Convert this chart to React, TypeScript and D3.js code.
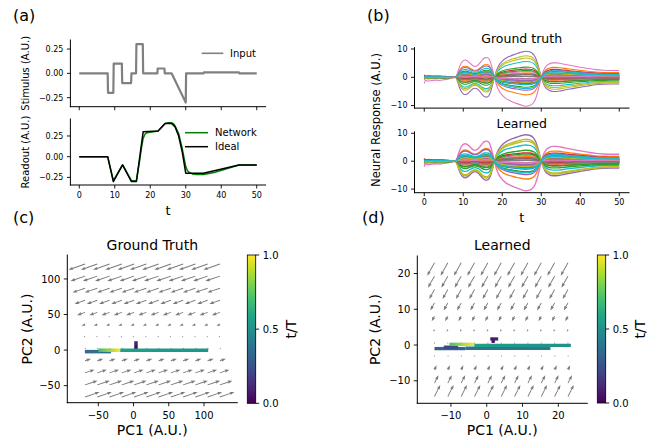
import * as d3 from "d3";

// ---------- (a) stimulus / readout ----------
const inputT = [0, 8, 8.1, 9.6, 9.7, 12, 12.1, 14.6, 14.7, 16, 16.1, 17.9, 18, 22, 22.1, 24, 24.1, 26, 30, 30.1, 35, 35.1, 45, 45.1, 50];
const inputV = [0, 0, -0.2, -0.2, 0.1, 0.1, -0.1, -0.1, 0, 0, 0.3, 0.3, 0, 0, 0.05, 0.05, 0, 0, -0.3, 0, 0, 0.01, 0.01, 0, 0];

const idealT = [0, 8, 9.6, 12.2, 14.7, 16.1, 18, 22.2, 24.2, 26, 27, 28, 29, 30, 35, 45, 50];
const idealV = [0, 0, -0.3, -0.1, -0.3, -0.3, 0.3, 0.31, 0.4, 0.4, 0.36, 0.25, 0.06, -0.2, -0.2, -0.1, -0.1];

const netT = [0, 8, 9.6, 12.2, 14.7, 16.1, 17, 17.5, 18, 18.5, 19, 22.2, 24.2, 25, 26, 26.5, 27, 28, 29, 30, 30.5, 31, 32, 33, 35, 38, 45, 50];
const netV = [0, 0, -0.29, -0.1, -0.29, -0.29, -0.05, 0.1, 0.22, 0.27, 0.29, 0.31, 0.4, 0.41, 0.41, 0.4, 0.37, 0.28, 0.1, -0.12, -0.17, -0.19, -0.21, -0.215, -0.215, -0.19, -0.1, -0.1];

const aTicksX = [0, 10, 20, 30, 40, 50];
const a1TicksY = [-0.25, 0, 0.25];
const a2TicksY = [-0.25, 0, 0.25];

// ---------- (b) neural responses: segment profiles x neuron amplitudes ----------
const prof0T = [0, 0.3, 1, 2, 3, 4, 5, 6, 7, 8];
const prof0P = [1, 0.5, 0.6, 0.5, 0.45, 0.5, 0.4, 0.3, 0.15, 0];
const prof1T = [8, 8.5, 9, 9.5, 10, 10.5, 11, 11.5, 12, 12.5, 13, 13.5, 14, 14.5, 15, 15.5, 16, 16.5, 17, 17.5, 18];
const prof1P = [0, 0.2, 0.5, 0.72, 0.84, 0.87, 0.84, 0.76, 0.66, 0.58, 0.55, 0.58, 0.66, 0.78, 0.9, 0.98, 1.0, 0.95, 0.75, 0.4, 0];
const prof2T = [18, 18.5, 19, 20, 21, 22, 23, 24, 25, 26, 27, 28, 28.5, 29, 29.5, 30];
const prof2P = [0, 0.25, 0.42, 0.62, 0.74, 0.81, 0.87, 0.92, 0.97, 1.0, 0.98, 0.88, 0.76, 0.56, 0.3, 0];
const prof3T = [30, 30.5, 31, 32, 33, 34, 35, 36, 38, 40, 42, 44, 46, 48, 50];
const prof3P = [0, 0.4, 0.68, 0.92, 1.0, 1.0, 0.96, 0.9, 0.8, 0.7, 0.61, 0.53, 0.49, 0.47, 0.47];

const gtAmp0 = [0.3, 0.9, -0.3, 0.5, -0.6, 0.2, -2.2, 0.4, -0.5, 0.6, 0.5, -0.9, 0.4, -0.4, 0.2, -0.2, 0.9, -0.3, 0.3, -0.5, -0.4, 0.6, -0.6, 0.7, -0.3, 0.2, 0.3, 0.2, -0.4, 0.3];
const gtAmp1 = [-1.0, 4.5, 2.5, -2.0, -7.0, 0.8, 7.0, 0.3, -5.2, -4.0, 2.0, 0.2, -2.8, 1.5, 4.0, -0.5, -1.5, -0.2, -4.6, 3.2, 1.2, -1.2, -2.0, -0.8, 1.0, 1.8, 0.5, -0.9, 1.5, 2.0];
const gtAmp2 = [1.2, -6.2, -3.5, 2.9, 9.2, -1.0, -10.2, -0.4, 7.6, 5.6, -2.6, 0.4, 3.6, -2.0, -4.6, 0.9, 2.0, 0.3, 6.8, -4.0, -1.6, 1.5, 2.4, 1.0, -1.2, -2.2, -0.6, 1.1, -1.8, -2.5];
const gtAmp3 = [-0.8, 3.5, 2.0, -1.5, -5.0, 0.5, 5.1, 0.2, -4.2, -3.0, 1.4, -0.3, -2.2, 2.8, 2.5, -0.6, -1.0, -0.1, -3.6, 2.2, 1.0, -1.0, -1.6, -0.6, 0.8, 1.2, 0.4, -0.7, 1.2, 1.6];

const lrAmp0 = [0.4, 1.0, -0.4, 0.6, -0.7, 0.3, -2.0, 0.3, -0.6, 0.7, 0.4, -1.0, 0.5, -0.5, 0.3, -0.3, 0.8, -0.4, 0.4, -0.6, -0.5, 0.5, -0.7, 0.8, -0.2, 0.3, 0.2, 0.3, -0.5, 0.4];
const lrAmp1 = [-1.1, 4.6, 2.4, -2.2, -6.8, 0.9, 7.2, 0.3, -6.0, -4.2, 2.1, 0.1, -3.0, 1.6, 4.2, -0.4, -1.6, -0.3, -5.6, 3.0, 1.3, -1.1, -2.2, -0.7, 1.1, 1.9, 0.6, -1.0, 1.4, 2.2];
const lrAmp2 = [1.3, -6.4, -3.8, 3.0, 9.5, -1.1, -10.6, -0.5, 7.9, 5.8, -2.8, 0.5, 3.9, -2.1, -4.8, 1.0, 2.1, 0.3, 7.2, -4.2, -1.7, 1.6, 2.6, 1.1, -1.3, -2.3, -0.6, 1.2, -1.9, -2.6];
const lrAmp3 = [-0.9, 3.6, 2.1, -1.6, -5.2, 0.6, 5.3, 0.2, -4.6, -3.2, 1.5, -0.3, -2.4, 2.9, 2.6, -0.6, -1.1, -0.1, -4.2, 2.3, 1.1, -1.0, -1.7, -0.6, 0.9, 1.3, 0.4, -0.8, 1.3, 1.7];

const bTicksY = [-10, 0, 10];

// ---------- (c)/(d) flow fields and trajectories ----------
// quiver grid (data units) and per-row vector (screen units: u right, v up)
const qGTx = [-68.8, -51.4, -34, -16.6, 0.8, 18.2, 35.6, 53, 70.4, 87.8, 105.2, 122.6];
const qGTy = [-66, -49, -32, -15, 2, 19, 36, 53, 70, 87, 104, 121];
const qGTu = [14.5, 12.5, 9.5, 6, 1, -1.2, -3.5, -8, -10.5, -12.5, -14.5, -16.5];
const qGTv = [5, 4.2, 3.2, 2, 0.3, -0.4, -1.2, -2.8, -3.6, -4.3, -5.0, -5.8];

const qLRx = [-14.6, -10.87, -7.14, -3.41, 0.32, 4.05, 7.78, 11.51, 15.24, 18.97, 22.7];
const qLRy = [-14.4, -10.66, -6.92, -3.18, 0.56, 4.3, 8.04, 11.78, 15.52, 19.26, 23.0];
const qLRu = [5.8, 4.0, 2.2, 0.5, -0.3, -1.2, -2.8, -4.2, -5.3, -6.5, -7.3];
const qLRv = [11.5, 8, 4.5, 1, -0.5, -2.2, -5, -7.5, -9.5, -11.5, -13];

// trajectory dwell segments: [x0, y0, x1, y1, t/T start, t/T end]
const trajGT = [
  [3.5, 1.5, 3.5, 12.5, 0.0, 0.14],
  [-69, -2.2, -32, -2.2, 0.34, 0.38],
  [106, -0.4, -19, -0.4, 0.52, 0.57],
  [-50, -0.2, -19, -0.2, 0.68, 1.0],
];
const trajLR = [
  [1.8, 0.6, 1.8, 1.9, 0.0, 0.1],
  [1.0, 1.7, 3.2, 1.7, 0.05, 0.12],
  [-14.6, -1.0, -6.0, -1.0, 0.3, 0.32],
  [-12, -0.6, -8, -0.6, 0.2, 0.22],
  [-6, -0.9, 17.8, -0.9, 0.38, 0.42],
  [23.5, -0.1, -3.5, -0.1, 0.5, 0.56],
  [-10.4, 0.2, -3.5, 0.2, 0.7, 1.0],
];

const cTicksX = [-50, 0, 50, 100];
const cTicksY = [-50, 0, 50, 100];
const dTicksX = [-10, 0, 10, 20];
const dTicksY = [-10, 0, 10, 20];
const cbTicks = [0, 0.5, 1];

const FONT = "DejaVu Sans, Verdana, sans-serif";
type Sc = d3.ScaleLinear<number, number>;
const minus = (s: string) => s.replace("-", "\u2212");

function Spines({ x, y }: { x: Sc; y: Sc }) {
  const [x0, x1] = x.range();
  const [y0, y1] = y.range();
  return (
    <g stroke="#000" strokeWidth={1} fill="none" strokeLinecap="square">
      <line x1={x0} y1={y0} x2={x0} y2={y1} />
      <line x1={x0} y1={y0} x2={x1} y2={y0} />
    </g>
  );
}

function YTicks({ x, y, ticks, fmt, fs }: { x: Sc; y: Sc; ticks: number[]; fmt: (v: number) => string; fs: number }) {
  const x0 = x.range()[0];
  return (
    <g>
      {ticks.map((v) => (
        <g key={v}>
          <line x1={x0 - 3.5} x2={x0} y1={y(v)} y2={y(v)} stroke="#000" strokeWidth={0.9} />
          <text x={x0 - 7} y={y(v) + fs * 0.36} fontSize={fs} textAnchor="end" fontFamily={FONT}>
            {minus(fmt(v))}
          </text>
        </g>
      ))}
    </g>
  );
}

function XTicks({ x, y, ticks, fs, labels, off }: { x: Sc; y: Sc; ticks: number[]; fs: number; labels: boolean; off: number }) {
  const y0 = y.range()[0];
  return (
    <g>
      {ticks.map((v) => (
        <g key={v}>
          <line x1={x(v)} x2={x(v)} y1={y0} y2={y0 + 3.5} stroke="#000" strokeWidth={0.9} />
          {labels && (
            <text x={x(v)} y={y0 + off} fontSize={fs} textAnchor="middle" fontFamily={FONT}>
              {minus(String(v))}
            </text>
          )}
        </g>
      ))}
    </g>
  );
}

function arrow(px: number, py: number, u: number, v: number, key: string) {
  const L = Math.hypot(u, v);
  if (L < 0.9) return <circle key={key} cx={px} cy={py} r={0.6} fill="#7a7a7a" />;
  let w = 0.9, hl = 4.6, hal = 4.1, hw = 3.3;
  if (L < hl) {
    const s = L / hl;
    w *= Math.max(s, 0.7); hl = L; hal *= s; hw *= Math.max(s, 0.5);
  }
  const pts = [
    [0, -w / 2], [L - hal, -w / 2], [L - hl, -hw / 2], [L, 0], [L - hl, hw / 2], [L - hal, w / 2], [0, w / 2],
  ];
  const ang = (Math.atan2(-v, u) * 180) / Math.PI;
  return (
    <polygon key={key} points={pts.map((p) => p.join(",")).join(" ")} fill="#7a7a7a"
      transform={`translate(${px},${py}) rotate(${ang})`} />
  );
}

function Quiver({ x, y, gx, gy, gu, gv }: { x: Sc; y: Sc; gx: number[]; gy: number[]; gu: number[]; gv: number[] }) {
  return (
    <g>
      {gy.map((yy, r) => gx.map((xx, c) => arrow(x(xx), y(yy), gu[r], gv[r], `${r}-${c}`)))}
    </g>
  );
}

function Trajectory({ x, y, segs, id, sw }: { x: Sc; y: Sc; segs: number[][]; id: string; sw: number }) {
  return (
    <g>
      <defs>
        {segs.map((s, i) => (
          <linearGradient key={i} id={`${id}${i}`} gradientUnits="userSpaceOnUse"
            x1={x(s[0])} y1={y(s[1])} x2={x(s[2]) + 0.001} y2={y(s[3]) + 0.001}>
            <stop offset="0" stopColor={d3.interpolateViridis(s[4])} />
            <stop offset="1" stopColor={d3.interpolateViridis(s[5])} />
          </linearGradient>
        ))}
      </defs>
      {segs.map((s, i) => (
        <line key={i} x1={x(s[0])} y1={y(s[1])} x2={x(s[2])} y2={y(s[3])}
          stroke={`url(#${id}${i})`} strokeWidth={sw} />
      ))}
    </g>
  );
}

function Colorbar({ x0, x1, top, bottom, id, labelX }: { x0: number; x1: number; top: number; bottom: number; id: string; labelX: number }) {
  const s = d3.scaleLinear().domain([0, 1]).range([bottom, top]);
  const stops = d3.range(0, 1.0001, 0.1);
  return (
    <g>
      <defs>
        <linearGradient id={id} x1="0" y1="1" x2="0" y2="0">
          {stops.map((t) => (
            <stop key={t} offset={t} stopColor={d3.interpolateViridis(t)} />
          ))}
        </linearGradient>
      </defs>
      <rect x={x0} y={top} width={x1 - x0} height={bottom - top} fill={`url(#${id})`} stroke="#000" strokeWidth={0.8} />
      {cbTicks.map((t) => (
        <g key={t}>
          <line x1={x1} x2={x1 + 3.5} y1={s(t)} y2={s(t)} stroke="#000" strokeWidth={0.9} />
          <text x={x1 + 7} y={s(t) + 3.6} fontSize={10} fontFamily={FONT}>{t.toFixed(1)}</text>
        </g>
      ))}
      <text transform={`translate(${labelX},${(top + bottom) / 2}) rotate(-90)`} textAnchor="middle" fontSize={14} fontFamily={FONT}>
        t/T
      </text>
    </g>
  );
}

export default function App() {
  // (a)
  const ax = d3.scaleLinear().domain([-2.5, 52.5]).range([70.4, 265.6]);
  const a1y = d3.scaleLinear().domain([-0.343, 0.343]).range([106.7, 40]);
  const a2y = d3.scaleLinear().domain([-0.342, 0.455]).range([185, 119]);
  const lineA = (T: number[], V: number[], ys: Sc) =>
    d3.line<number>().x((_, i) => ax(T[i])).y((v) => ys(v))(V) || "";

  // (b)
  const bx = d3.scaleLinear().domain([-2.5, 52.5]).range([414.5, 629]);
  const b1y = d3.scaleLinear().domain([-10.88, 10.49]).range([108.1, 47.6]);
  const b2y = d3.scaleLinear().domain([-11.29, 10.5]).range([192.7, 131.9]);
  const profiles = [
    [prof0T, prof0P], [prof1T, prof1P], [prof2T, prof2P], [prof3T, prof3P],
  ].map(([T, P]) => {
    const s = d3.scaleLinear().domain(T).range(P);
    return (t: number) => (t < T[0] || t > T[T.length - 1] ? 0 : s(t));
  });
  const allT = Array.from(new Set([...prof0T, ...prof1T, ...prof2T, ...prof3T])).sort((a, b) => a - b);
  const neuronPaths = (amps: number[][], ys: Sc) =>
    amps[0].map((_, i) =>
      d3.line<number>().x((t) => bx(t)).y((t) =>
        ys(amps[0][i] * profiles[0](t) + amps[1][i] * profiles[1](t) + amps[2][i] * profiles[2](t) + amps[3][i] * profiles[3](t))
      ).curve(d3.curveMonotoneX)(allT) || ""
    );
  const gtPaths = neuronPaths([gtAmp0, gtAmp1, gtAmp2, gtAmp3], b1y);
  const lrPaths = neuronPaths([lrAmp0, lrAmp1, lrAmp2, lrAmp3], b2y);
  const tab10 = d3.schemeCategory10;

  // (c), (d)
  const cx = d3.scaleLinear().domain([-94, 147.3]).range([67.3, 237.3]);
  const cy = d3.scaleLinear().domain([-74, 133.7]).range([402.7, 255]);
  const dx = d3.scaleLinear().domain([-19.4, 28.1]).range([417.3, 587.3]);
  const dy = d3.scaleLinear().domain([-16.3, 24.9]).range([403.3, 256]);

  return (
    <svg width={658} height={445} style={{ position: "absolute", left: 0, top: 0, background: "#fff" }}
      fontFamily={FONT}>
      <rect width={658} height={445} fill="#fff" />
      {/* panel labels */}
      <text x={13} y={21} fontSize={16}>(a)</text>
      <text x={367} y={21} fontSize={16}>(b)</text>
      <text x={13} y={222.5} fontSize={16}>(c)</text>
      <text x={362} y={222.5} fontSize={16}>(d)</text>

      {/* (a) top: stimulus */}
      <path d={lineA(inputT, inputV, a1y)} fill="none" stroke="#808080" strokeWidth={2.2} strokeLinejoin="round" />
      <Spines x={ax} y={a1y} />
      <YTicks x={ax} y={a1y} ticks={a1TicksY} fmt={d3.format(".2f")} fs={8} />
      <XTicks x={ax} y={a1y} ticks={aTicksX} fs={8} labels={false} off={12.5} />
      <text transform={`translate(29,73.3) rotate(-90)`} textAnchor="middle" fontSize={10}>Stimulus (A.U.)</text>
      <line x1={201.7} x2={223.3} y1={53.3} y2={53.3} stroke="#808080" strokeWidth={1.6} />
      <text x={230} y={56.8} fontSize={10}>Input</text>

      {/* (a) bottom: readout */}
      <path d={lineA(netT, netV, a2y)} fill="none" stroke="#008000" strokeWidth={1.5} strokeLinejoin="round" />
      <path d={lineA(idealT, idealV, a2y)} fill="none" stroke="#000" strokeWidth={1.5} strokeLinejoin="round" />
      <Spines x={ax} y={a2y} />
      <YTicks x={ax} y={a2y} ticks={a2TicksY} fmt={d3.format(".2f")} fs={8} />
      <XTicks x={ax} y={a2y} ticks={aTicksX} fs={8} labels={true} off={12.5} />
      <text transform={`translate(29,152) rotate(-90)`} textAnchor="middle" fontSize={10}>Readout (A.U.)</text>
      <line x1={185} x2={208} y1={132.7} y2={132.7} stroke="#008000" strokeWidth={1.5} />
      <text x={215} y={136.2} fontSize={10}>Network</text>
      <line x1={185} x2={208} y1={146.7} y2={146.7} stroke="#000" strokeWidth={1.5} />
      <text x={215} y={150.2} fontSize={10}>Ideal</text>
      <text x={168} y={215} textAnchor="middle" fontSize={13}>t</text>

      {/* (b) ground truth */}
      <text x={521.7} y={42.5} textAnchor="middle" fontSize={12.5}>Ground truth</text>
      <g fill="none" strokeWidth={1.1} strokeLinejoin="round">
        {gtPaths.map((d, i) => <path key={i} d={d} stroke={tab10[i % 10]} />)}
      </g>
      <Spines x={bx} y={b1y} />
      <YTicks x={bx} y={b1y} ticks={bTicksY} fmt={d3.format("d")} fs={8} />
      <XTicks x={bx} y={b1y} ticks={aTicksX} fs={8} labels={false} off={12.5} />

      {/* (b) learned */}
      <text x={521.7} y={127.5} textAnchor="middle" fontSize={12.5}>Learned</text>
      <g fill="none" strokeWidth={1.4} strokeLinejoin="round">
        {lrPaths.map((d, i) => <path key={i} d={d} stroke={tab10[i % 10]} />)}
      </g>
      <Spines x={bx} y={b2y} />
      <YTicks x={bx} y={b2y} ticks={bTicksY} fmt={d3.format("d")} fs={8} />
      <XTicks x={bx} y={b2y} ticks={aTicksX} fs={8} labels={true} off={12.5} />
      <text transform={`translate(380.3,120) rotate(-90)`} textAnchor="middle" fontSize={11.6}>Neural Response (A.U.)</text>
      <text x={521.7} y={221.5} textAnchor="middle" fontSize={13}>t</text>

      {/* (c) ground truth flow */}
      <text x={152.3} y={250} textAnchor="middle" fontSize={14}>Ground Truth</text>
      <Quiver x={cx} y={cy} gx={qGTx} gy={qGTy} gu={qGTu} gv={qGTv} />
      <Trajectory x={cx} y={cy} segs={trajGT} id="tgt" sw={3.5} />
      <Spines x={cx} y={cy} />
      <YTicks x={cx} y={cy} ticks={cTicksY} fmt={d3.format("d")} fs={10} />
      <XTicks x={cx} y={cy} ticks={cTicksX} fs={10} labels={true} off={16} />
      <text x={152.3} y={435} textAnchor="middle" fontSize={14}>PC1 (A.U.)</text>
      <text transform={`translate(32,329) rotate(-90)`} textAnchor="middle" fontSize={14}>PC2 (A.U.)</text>
      <Colorbar x0={247.3} x1={255.7} top={255} bottom={403.3} id="cbc" labelX={295.5} />

      {/* (d) learned flow */}
      <text x={502.3} y={250} textAnchor="middle" fontSize={14}>Learned</text>
      <Quiver x={dx} y={dy} gx={qLRx} gy={qLRy} gu={qLRu} gv={qLRv} />
      <Trajectory x={dx} y={dy} segs={trajLR} id="tlr" sw={3.3} />
      <Spines x={dx} y={dy} />
      <YTicks x={dx} y={dy} ticks={dTicksY} fmt={d3.format("d")} fs={10} />
      <XTicks x={dx} y={dy} ticks={dTicksX} fs={10} labels={true} off={16} />
      <text x={502.3} y={435} textAnchor="middle" fontSize={14}>PC1 (A.U.)</text>
      <text transform={`translate(380,329.6) rotate(-90)`} textAnchor="middle" fontSize={14}>PC2 (A.U.)</text>
      <Colorbar x0={597.3} x1={605.7} top={255} bottom={403} id="cbd" labelX={645} />
    </svg>
  );
}
